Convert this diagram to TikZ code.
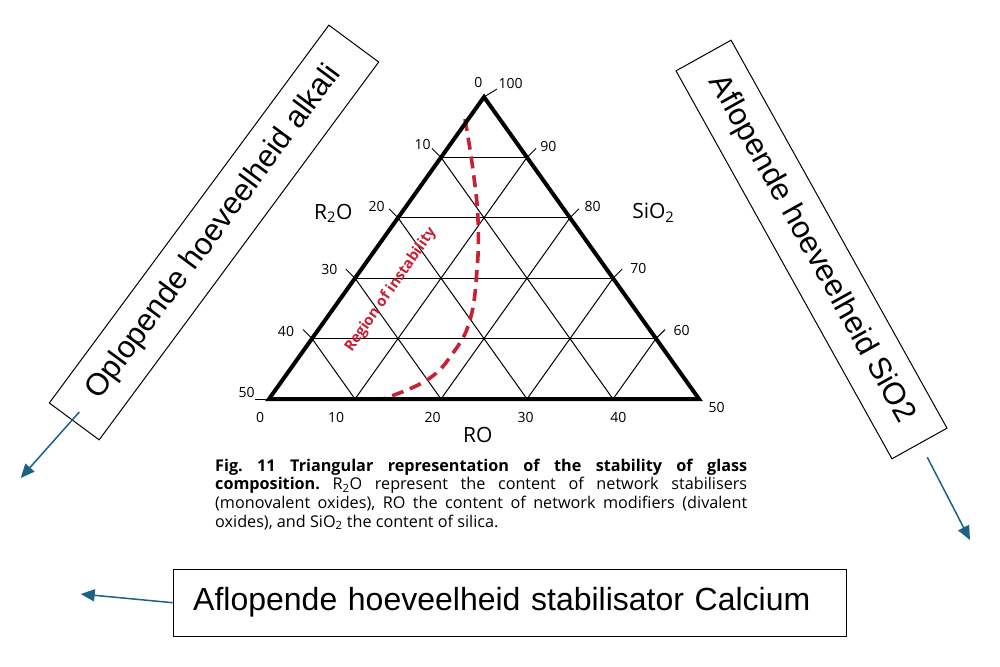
\documentclass[tikz,border=0pt]{standalone}
\usepackage{fontspec}
\usepackage{xcolor}
\usepackage{tikz}
\usetikzlibrary{arrows.meta}
\newfontfamily\figfont{Open Sans}
\newfontfamily\notefont{Liberation Sans}
\definecolor{trendblue}{RGB}{27,98,135}
\definecolor{instabred}{RGB}{200,32,52}
\newcommand{\capline}[1]{\makebox[532pt][s]{#1}}
\tikzset{
  notebox/.style={draw, line width=1pt, inner sep=0pt, font=\notefont\fontsize{31}{36}\selectfont},
  trend/.style={draw=trendblue, line width=1.5pt, -{Triangle[length=14pt,width=12pt]}},
  tickmark/.style={line width=0.9pt},
  gridline/.style={line width=1pt},
  ticklab/.style={inner sep=0pt, font=\figfont\fontsize{14}{16}\selectfont},
  axislab/.style={inner sep=0pt, font=\figfont\fontsize{21}{24}\selectfont},
  figcaption/.style={anchor=base west, inner sep=0pt, font=\figfont\fontsize{16.2}{18.7}\selectfont},
}
\frenchspacing
\begin{document}
\begin{tikzpicture}[x=1pt,y=1pt,yscale=-1]
\fill[white] (0,0) rectangle (1000,666);
\useasboundingbox (0,0) rectangle (1000,666);

% Triangle corners and grid points
\coordinate (A) at (269,399);
\coordinate (B) at (699,399);
\coordinate (C) at (484,97);
\coordinate (L1) at (441,157.4);
\coordinate (L2) at (398,217.8);
\coordinate (L3) at (355,278.2);
\coordinate (L4) at (312,338.6);
\coordinate (R1) at (527,157.4);
\coordinate (R2) at (570,217.8);
\coordinate (R3) at (613,278.2);
\coordinate (R4) at (656,338.6);
\coordinate (P1) at (355,399);
\coordinate (P2) at (441,399);
\coordinate (P3) at (527,399);
\coordinate (P4) at (613,399);

%Grid Lines
\draw[gridline] (L1) -- (R1) (L2) -- (R2) (L3) -- (R3) (L4) -- (R4);
\draw[gridline] (L1) -- (P4) (L2) -- (P3) (L3) -- (P2) (L4) -- (P1);
\draw[gridline] (R1) -- (P1) (R2) -- (P2) (R3) -- (P3) (R4) -- (P4);

%Region of instability
\draw[instabred, line width=3.6pt, dash pattern=on 12pt off 7pt] plot[smooth, tension=0.7] coordinates {(465,119) (473,170) (478,220) (477,270) (470,320) (453,353) (427,380) (383,399)};
\node[instabred, inner sep=0pt, rotate=55.1, font=\figfont\bfseries\fontsize{14.8}{16}\selectfont] (instab) at (390.8,290) {Region of instability};

%Outer Triangle
\draw[line width=4pt] (A) -- (B) -- (C) -- cycle;

%Tick Marks
\draw[tickmark] (C) -- ++(13,-8);
\draw[tickmark] (A) -- ++(-14,0);
\draw[tickmark] (L1) -- ++(-9,-9) (L2) -- ++(-9,-9) (L3) -- ++(-9,-9) (L4) -- ++(-9,-9);
\draw[tickmark] (R1) -- ++(9,-9) (R2) -- ++(9,-9) (R3) -- ++(9,-9) (R4) -- ++(9,-9);

% Text Node
\node[ticklab] (r0) at (478.3,82.7) {0};
\node[ticklab] (r10) at (422.7,144) {10};
\node[ticklab] (r20) at (376.7,206) {20};
\node[ticklab] (r30) at (329.3,269) {30};
\node[ticklab] (r40) at (286,331) {40};
\node[ticklab] (r50) at (246.7,392.7) {50};
% Text Node
\node[ticklab] (s100) at (510.7,83.3) {100};
\node[ticklab] (s90) at (548.3,146) {90};
\node[ticklab] (s80) at (592.7,206) {80};
\node[ticklab] (s70) at (638.3,268.3) {70};
\node[ticklab] (s60) at (681.7,330) {60};
\node[ticklab] (s50) at (716.7,407.7) {50};
% Text Node
\node[ticklab] (o0) at (260,417.7) {0};
\node[ticklab] (o10) at (336,417.7) {10};
\node[ticklab] (o20) at (432.7,417.7) {20};
\node[ticklab] (o30) at (525.7,417.7) {30};
\node[ticklab] (o40) at (618.3,417.7) {40};
% Text Node
\node[axislab] (alkaxis) at (333.3,213.3) {R\textsubscript{2}O};
\node[axislab] (silaxis) at (653.3,212.7) {SiO\textsubscript{2}};
\node[axislab] (roaxis) at (477.7,435) {RO};

% Caption
\node[figcaption] (cap1) at (215,471) {\capline{\bfseries Fig. 11 Triangular representation of the stability of glass}};
\node[figcaption] (cap2) at (215,489.7) {\capline{\textbf{composition.} R\textsubscript{2}O represent the content of network stabilisers}};
\node[figcaption] (cap3) at (215,508.4) {\capline{(monovalent oxides), RO the content of network modifiers (divalent}};
\node[figcaption] (cap4) at (215,527.1) {oxides), and SiO\textsubscript{2} the content of silica.};

% Note Boxes
\node[notebox, rotate=53.5, minimum width=470pt, minimum height=62pt] (alkali) at (214,232.5) {Oplopende hoeveelheid alkali};
\node[notebox, rotate=-60.9, minimum width=444pt, minimum height=63pt] (silica) at (811.5,249.5) {Aflopende hoeveelheid SiO2};
\node[notebox, anchor=west, minimum height=66.7pt, text width=633pt, inner xsep=20pt, align=left, font=\notefont\fontsize{32}{36}\selectfont] (calcium) at (172.7,602.7) {Aflopende hoeveelheid stabilisator Calcium};

%Arrows
\coordinate (alkalitail) at (79.3,412);
\coordinate (alkalitip) at (20.7,478);
\coordinate (silicatail) at (927.3,457.3);
\coordinate (silicatip) at (970,540);
\coordinate (calciumtip) at (80.7,594);
\draw[trend] (alkalitail) -- (alkalitip);
\draw[trend] (silicatail) -- (silicatip);
\draw[trend] (calcium.west) -- (calciumtip);

\end{tikzpicture}
\end{document}
